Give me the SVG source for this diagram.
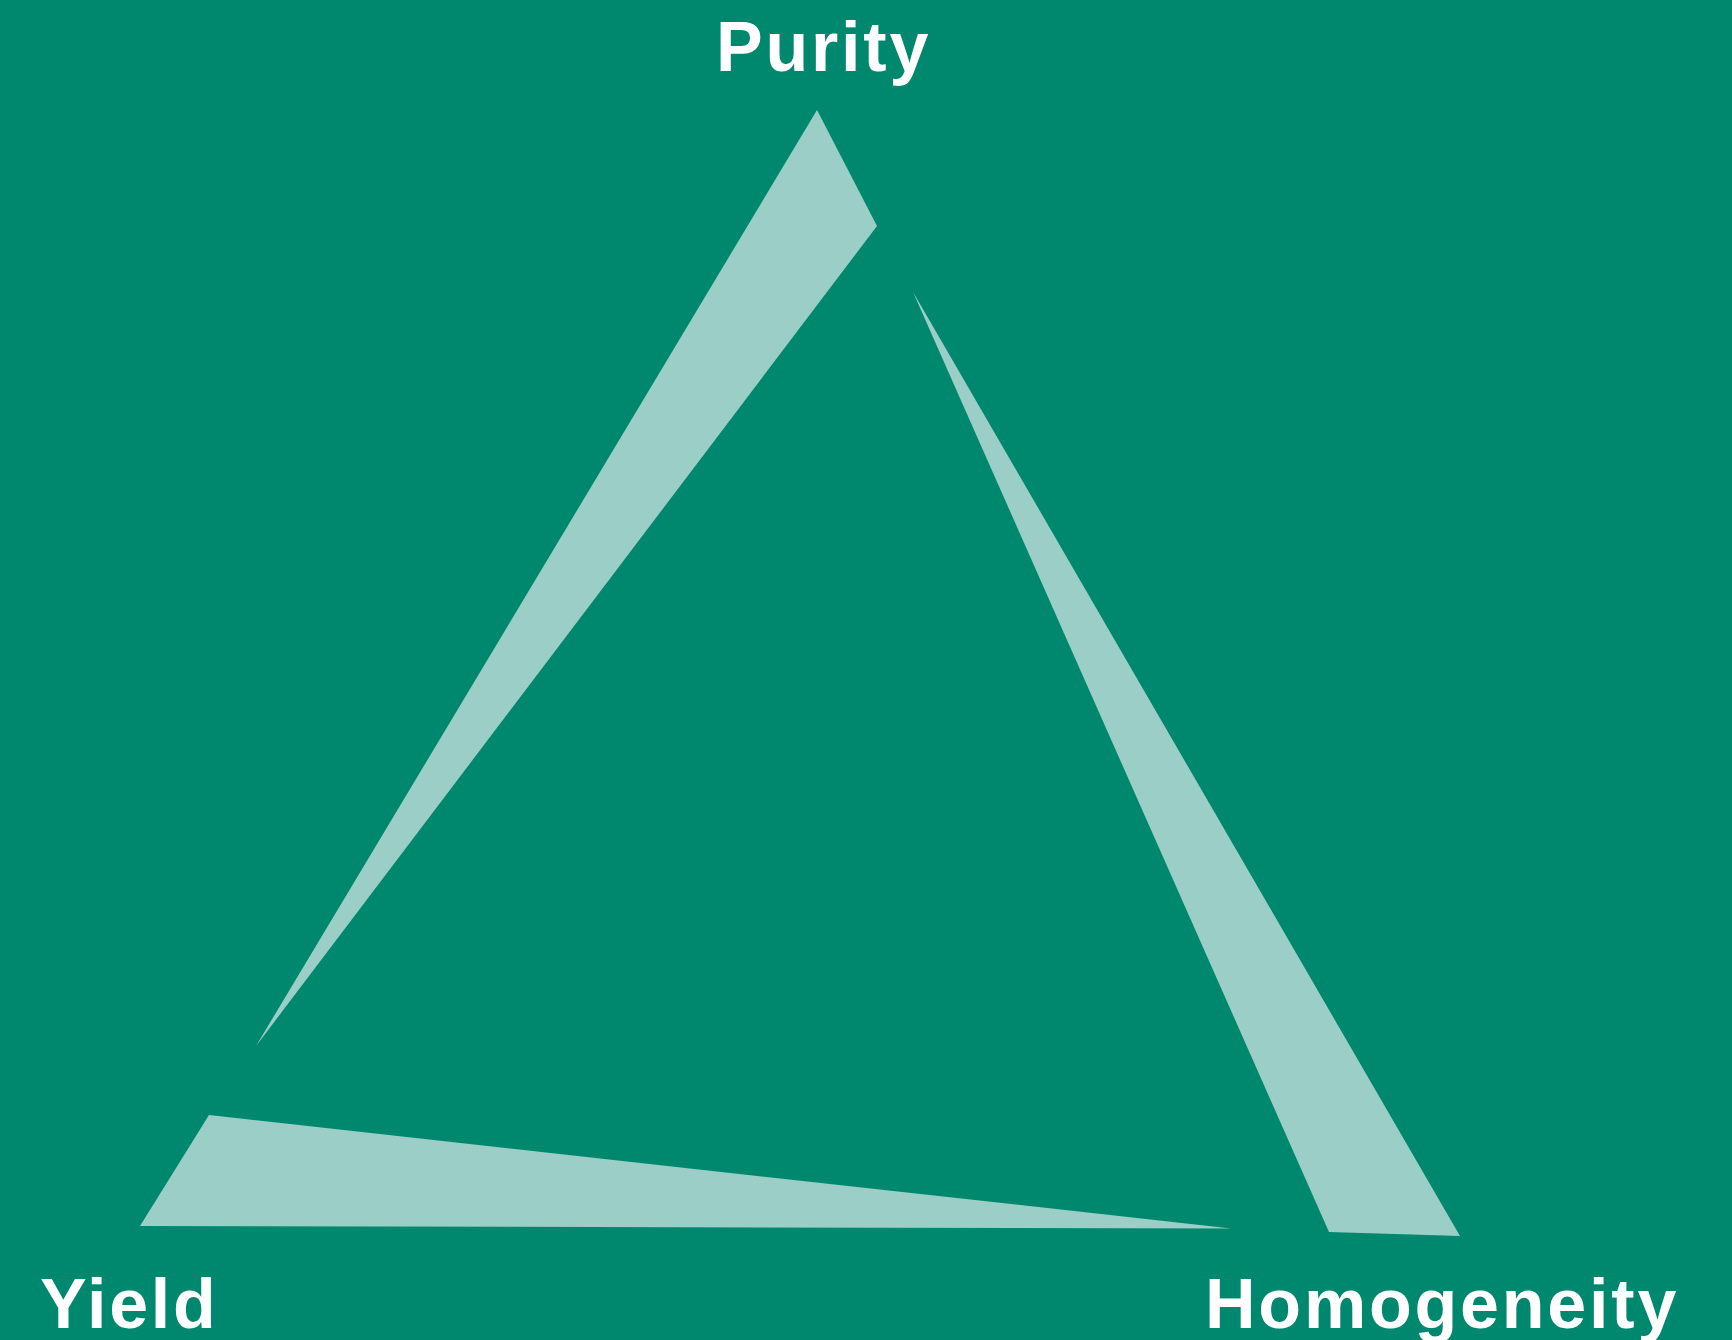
<svg xmlns="http://www.w3.org/2000/svg" width="1732" height="1340" viewBox="0 0 1732 1340">
<style>
.bg{fill:#00886e}
.band{fill:#9bcec6;stroke:none}
.lbl{font-family:"Liberation Sans",Arial,sans-serif;font-weight:bold;font-size:70px;letter-spacing:2.8px;fill:#ffffff}
</style>
<rect class="bg" x="0" y="0" width="1732" height="1340"/>
<g id="connectors">
<polygon id="edge-purity-yield" class="band" points="817,110 877,226 256,1046"/>
<polygon id="edge-purity-homogeneity" class="band" points="913,292 1460,1236 1329,1232"/>
<polygon id="edge-yield-homogeneity" class="band" points="209,1115 1231,1228.5 140,1226"/>
</g>
<g id="node-purity"><text class="lbl" x="716" y="71">Purity</text></g>
<g id="node-yield"><text class="lbl" x="40" y="1328">Yield</text></g>
<g id="node-homogeneity"><text class="lbl" x="1205" y="1328">Homogeneity</text></g>
</svg>
